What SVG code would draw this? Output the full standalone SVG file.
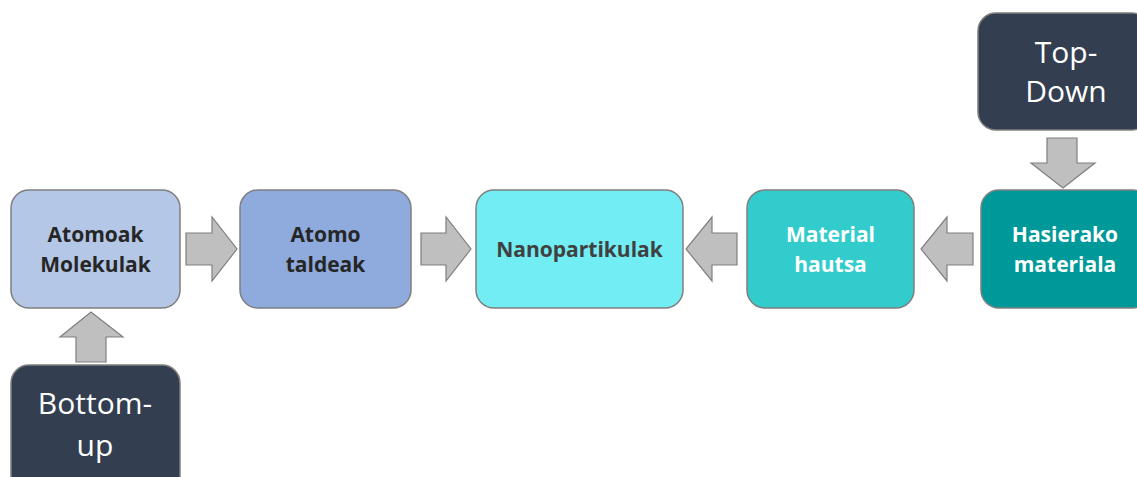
<svg xmlns="http://www.w3.org/2000/svg" width="1137" height="477" viewBox="0 0 1137 477">
<style>
.box{stroke:#7F7F7F;stroke-width:1.5}
.arr{fill:#BFBFBF;stroke:#7F7F7F;stroke-width:1.2}
.lbl{font-family:"Open Sans","Liberation Sans",sans-serif;font-weight:bold;font-size:21px;text-anchor:middle}
.big{font-family:"Open Sans","Liberation Sans",sans-serif;font-size:30px;fill:#FFFFFF;text-anchor:middle}
</style>
<rect width="1137" height="477" fill="#FFFFFF"/>
<g id="connectors">
<polygon class="arr" points="186,233 212,233 212,217 237,249 212,281 212,265 186,265"/>
<polygon class="arr" points="421,233 446,233 446,217 471,249 446,281 446,265 421,265"/>
<polygon class="arr" points="737,233 712,233 712,217 686,249 712,281 712,265 737,265"/>
<polygon class="arr" points="973,233 947,233 947,217 921,249 947,281 947,265 973,265"/>
<polygon class="arr" points="76,362 76,337 60,337 91,312 123,337 106,337 106,362"/>
<polygon class="arr" points="1047,138 1077,138 1077,163 1095,163 1063,188 1031,163 1047,163"/>
</g>
<g id="atomoak">
<rect class="box" x="11" y="190" width="169" height="118" rx="18" fill="#B4C7E7"/>
<text class="lbl" x="95.5" y="242" fill="#262626">Atomoak</text>
<text class="lbl" x="95.5" y="272" fill="#262626">Molekulak</text>
</g>
<g id="taldeak">
<rect class="box" x="240" y="190" width="171" height="118" rx="18" fill="#8FAADC"/>
<text class="lbl" x="325.5" y="242" fill="#262626">Atomo</text>
<text class="lbl" x="325.5" y="272" fill="#262626">taldeak</text>
</g>
<g id="nano">
<rect class="box" x="476" y="190" width="207" height="118" rx="18" fill="#71EDF3"/>
<text class="lbl" x="579.5" y="257" fill="#404040">Nanopartikulak</text>
</g>
<g id="hautsa">
<rect class="box" x="747" y="190" width="167" height="118" rx="18" fill="#33CCCC"/>
<text class="lbl" x="830.5" y="242" fill="#FFFFFF">Material</text>
<text class="lbl" x="830.5" y="272" fill="#FFFFFF">hautsa</text>
</g>
<g id="hasierako">
<rect class="box" x="981" y="190" width="170" height="118" rx="18" fill="#009999"/>
<text class="lbl" x="1065" y="242" fill="#FFFFFF">Hasierako</text>
<text class="lbl" x="1065" y="272" fill="#FFFFFF">materiala</text>
</g>
<g id="topdown">
<rect class="box" x="978" y="13" width="172" height="117" rx="18" fill="#333F50"/>
<text class="big" x="1066" y="63">Top-</text>
<text class="big" x="1066" y="102">Down</text>
</g>
<g id="bottomup">
<rect class="box" x="11" y="365" width="169" height="130" rx="18" fill="#333F50"/>
<text class="big" x="95" y="414">Bottom-</text>
<text class="big" x="95" y="456">up</text>
</g>
</svg>
